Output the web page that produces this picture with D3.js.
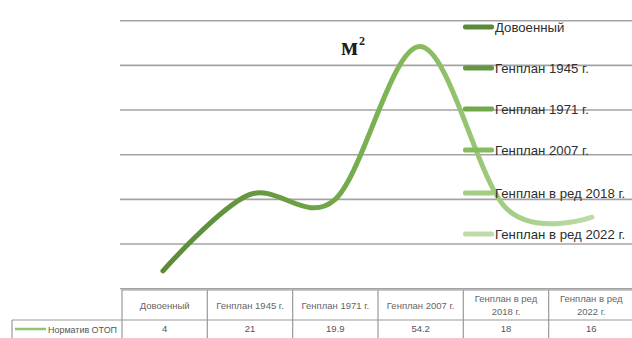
<!DOCTYPE html>
<html>
<head>
<meta charset="utf-8">
<script src="https://cdn.jsdelivr.net/npm/d3@7/dist/d3.min.js"></script>
<style>
  html, body { margin: 0; padding: 0; background: #fff; }
  svg { display: block; }
  text { font-family: "Liberation Sans Narrow", "Liberation Sans", Arial, sans-serif; }
</style>
</head>
<body>
<svg id="chart" width="632" height="338"></svg>
<script>
// Норматив ОТОП по генпланам, м²
const categories = ["Довоенный", "Генплан 1945 г.", "Генплан 1971 г.", "Генплан 2007 г.", "Генплан в ред 2018 г.", "Генплан в ред 2022 г."];
const headerLines = [["Довоенный"], ["Генплан 1945 г."], ["Генплан 1971 г."], ["Генплан 2007 г."], ["Генплан в ред", "2018 г."], ["Генплан в ред", "2022 г."]];
const values = [4, 21, 19.9, 54.2, 18, 16];
const valueLabels = ["4", "21", "19.9", "54.2", "18", "16"];
const seriesName = "Норматив ОТОП";
const yTicks = [0, 10, 20, 30, 40, 50, 60];
const colors = ["#5b8b38", "#64973e", "#72a74a", "#86bb5e", "#a2cd83", "#bddca9"];

const svg = d3.select("#chart");
const W = 632, H = 338;

const x = d3.scalePoint().domain(categories).range([163, 592]);
const y = d3.scaleLinear().domain([0, 60]).range([288.7, 20.7]);

// horizontal gridlines
svg.append("g").selectAll("line").data(yTicks).join("line")
  .attr("x1", 120).attr("x2", W)
  .attr("y1", d => y(d)).attr("y2", d => y(d))
  .attr("stroke", "#a3a3a3").attr("stroke-width", 1.6);

// gradient along the line, one stop per category
const defs = svg.append("defs");
const grad = defs.append("linearGradient").attr("id", "lineGrad")
  .attr("gradientUnits", "userSpaceOnUse")
  .attr("x1", x(categories[0])).attr("x2", x(categories[categories.length - 1]))
  .attr("y1", 0).attr("y2", 0);
categories.forEach((c, i) => {
  grad.append("stop").attr("offset", i / (categories.length - 1)).attr("stop-color", colors[i]);
});

const pts = categories.map((c, i) => [x(c), y(values[i])]);
svg.append("path")
  .attr("d", d3.line().curve(d3.curveCardinal.tension(0))(pts))
  .attr("fill", "none")
  .attr("stroke", "url(#lineGrad)")
  .attr("stroke-width", 5)
  .attr("stroke-linecap", "round");

// unit label
const unit = svg.append("text").attr("x", 341).attr("y", 55)
  .style("font-family", "'Liberation Serif', 'Times New Roman', serif")
  .style("font-weight", "bold").style("font-size", "25px").attr("fill", "#1e1e1e");
unit.append("tspan").text("м");
unit.append("tspan").attr("dx", 1).attr("dy", -10).style("font-size", "12px").text("2");

// legend
const legendY = [27, 68, 109, 150, 193, 234];
const lg = svg.append("g").selectAll("g").data(categories).join("g")
  .attr("transform", (d, i) => `translate(0,${legendY[i]})`);
lg.append("rect").attr("x", 463).attr("y", -2.5).attr("width", 31).attr("height", 5)
  .attr("rx", 2).attr("fill", (d, i) => colors[i]);
lg.append("text").attr("x", 495).attr("y", 4.5)
  .style("font-size", "13.2px").attr("fill", "#2e2e2e").text(d => d);

// data table
const colX = d3.scaleBand().domain(categories).range([122, 634]);
const tbl = svg.append("g");
const hTop = 290, hBot = 320, dBot = 345;
tbl.append("line").attr("x1", 122).attr("x2", 634).attr("y1", hTop).attr("y2", hTop)
  .attr("stroke", "#9a9a9a").attr("stroke-width", 1.2);
tbl.append("line").attr("x1", 12).attr("x2", 634).attr("y1", hBot).attr("y2", hBot)
  .attr("stroke", "#9a9a9a").attr("stroke-width", 1.2);
tbl.append("line").attr("x1", 12).attr("x2", 12).attr("y1", hBot).attr("y2", dBot)
  .attr("stroke", "#9a9a9a").attr("stroke-width", 1.2);
tbl.selectAll("line.col").data(categories).join("line").attr("class", "col")
  .attr("x1", d => colX(d)).attr("x2", d => colX(d))
  .attr("y1", hTop).attr("y2", dBot)
  .attr("stroke", "#9a9a9a").attr("stroke-width", 1.2);

tbl.selectAll("text.hdr").data(headerLines).join("text").attr("class", "hdr")
  .attr("text-anchor", "middle")
  .style("font-size", "9.5px").attr("fill", "#666")
  .each(function(lines, i) {
    const cx = colX(categories[i]) + colX.bandwidth() / 2;
    const t = d3.select(this);
    const y0 = lines.length === 1 ? 309 : 301.5;
    lines.forEach((l, k) => t.append("tspan").attr("x", cx).attr("y", y0 + k * 13).text(l));
  });

tbl.selectAll("text.val").data(valueLabels).join("text").attr("class", "val")
  .attr("text-anchor", "middle")
  .attr("x", (d, i) => colX(categories[i]) + colX.bandwidth() / 2)
  .attr("y", 332)
  .style("font-size", "9.5px").attr("fill", "#555").text(d => d);

tbl.append("line").attr("x1", 15).attr("x2", 46).attr("y1", 329).attr("y2", 329)
  .attr("stroke", "#92c16f").attr("stroke-width", 2.5);
tbl.append("text").attr("x", 48).attr("y", 332.5)
  .attr("textLength", 69).attr("lengthAdjust", "spacingAndGlyphs")
  .style("font-size", "9px").attr("fill", "#555").text(seriesName);
</script>
</body>
</html>
